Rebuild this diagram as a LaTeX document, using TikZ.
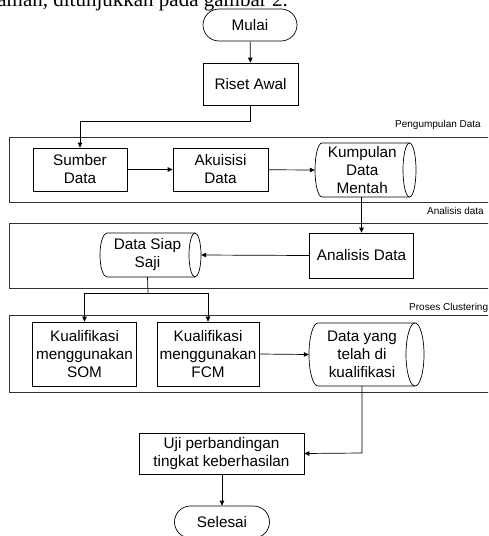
\documentclass[tikz,border=0pt]{standalone}
\usepackage{fontspec}
\setmainfont{Liberation Sans}
\newfontfamily\headfont{Liberation Serif}
\usetikzlibrary{arrows.meta,calc}
\tikzset{
  box/.style={draw, line width=0.7pt, inner sep=0pt, align=center, font=\fontsize{15.3}{18}\selectfont},
  term/.style={box, rounded corners=16pt},
  drumtext/.style={inner sep=0pt, align=center, font=\fontsize{15.3}{18}\selectfont},
  frame/.style={draw=black!80, line width=0.8pt},
  lbl/.style={inner sep=0pt, font=\fontsize{10}{12}\selectfont},
  conn/.style={line width=0.7pt},
  arr/.style={conn, -{Triangle[length=5pt,width=4.5pt]}},
}
% drum outline: x1 y1 x2 y2 rl rr
\newcommand\drumoutline[6]{%
  \draw[line width=0.7pt] ({#3-#6},#2) -- ({#1+#5},#2)
    arc[start angle=270, end angle=90, x radius=#5, y radius={(#4-#2)/2}]
    -- ({#3-#6},#4);
  \draw[line width=0.7pt] ({#3-#6},{(#2+#4)/2}) ellipse [x radius=#6, y radius={(#4-#2)/2}];
}
\begin{document}
\begin{tikzpicture}[x=1pt,y=-1pt]
\useasboundingbox (0,0) rectangle (488,536);
\clip (0,0) rectangle (488,536);
\fill[white] (0,0) rectangle (488,536);

% cut header line
\node[anchor=base east, inner sep=0pt, font=\headfont\fontsize{21}{24}\selectfont] (head) at (288,6) {alur pemahaman, ditunjukkan pada gambar 2.};

% frames
\draw[frame] (9,137) rectangle (500,202);
\draw[frame] (9,223) rectangle (500,288);
\draw[frame] (9,315.5) rectangle (500,392);
\node[lbl, anchor=east] (l1) at (481,125) {Pengumpulan Data};
\node[lbl, anchor=east] (l2) at (484,210.5) {Analisis data};
\node[lbl, anchor=west] (l3) at (409,307.5) {Proses Clustering};

% nodes
\node[term, minimum width=94pt, minimum height=32pt] (mulai) at (250,25) {Mulai};
\node[box, minimum width=95pt, minimum height=42pt] (riset) at (250.5,84) {Riset Awal};
\node[box, minimum width=94pt, minimum height=43pt] (sumber) at (80,169.5) {Sumber\\Data};
\node[box, minimum width=95pt, minimum height=43pt] (akuisisi) at (220.5,169.5) {Akuisisi\\Data};
\drumoutline{315}{143}{416}{197}{7}{6.5}
\node[drumtext, minimum width=94.5pt, minimum height=54pt] (kdm) at (362.25,170) {Kumpulan\\Data\\Mentah};
\node[box, minimum width=104pt, minimum height=45pt] (anl) at (361.5,255.5) {Analisis Data};
\drumoutline{100}{233}{201}{277}{7}{6}
\node[drumtext, minimum width=95pt, minimum height=44pt] (dss) at (147.5,255) {Data Siap\\Saji};
\node[box, minimum width=104pt, minimum height=64pt] (som) at (84.5,354) {Kualifikasi\\menggunakan\\SOM};
\node[box, minimum width=102pt, minimum height=64pt] (fcm) at (208,354) {Kualifikasi\\menggunakan\\FCM};
\drumoutline{309}{323}{424}{386}{9}{9}
\node[drumtext, minimum width=106pt, minimum height=63pt] (dtk) at (362,354.5) {Data yang\\telah di\\kualifikasi};
\node[box, minimum width=165pt, minimum height=41pt] (uji) at (221.5,453.5) {Uji perbandingan\\tingkat keberhasilan};
\node[term, minimum width=95pt, minimum height=32pt] (selesai) at (222,522) {Selesai};

\coordinate (b1) at (250.5,121);
\coordinate (b2) at (148,293);
\coordinate (b3) at (362,453);

% connectors
\draw[arr] (mulai) -- (riset);
\draw[arr] (riset.south) -- (b1) -| (sumber.north);
\draw[arr] (sumber) -- (akuisisi);
\draw[arr] (akuisisi) -- (kdm.west);
\draw[arr] (kdm.south -| anl.north) -- (anl.north);
\draw[arr] (anl.west) -- ($(dss.east)+(6,0)$);
\draw[conn] (dss.south) -- (b2);
\draw[arr] (b2) -| (som.north);
\draw[arr] (b2) -| (fcm.north);
\draw[arr] (fcm.east) -- (dtk.west);
\draw[arr] (dtk.south) -- (b3) -- (uji.east);
\draw[arr] (uji.south -| selesai.north) -- (selesai.north);
\end{tikzpicture}
\end{document}
